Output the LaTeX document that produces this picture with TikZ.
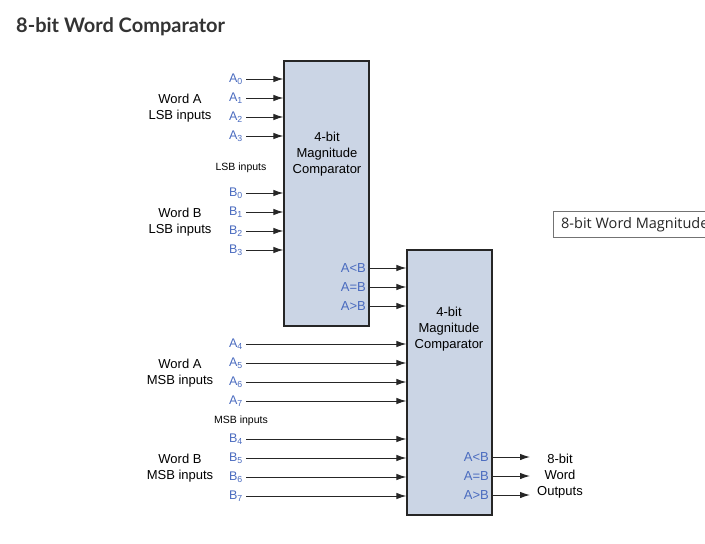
\documentclass[tikz,border=0pt]{standalone}
\usepackage{fontspec}
\setmainfont{Liberation Sans}
\newfontfamily\titlefont{Lato}
\newfontfamily\uifont{Open Sans}
\usepackage{tikz}
\usetikzlibrary{arrows.meta,positioning,calc}

\definecolor{boxfill}{HTML}{CBD5E5}
\definecolor{pinblue}{HTML}{4A6BBF}
\definecolor{titlegray}{HTML}{333333}

\tikzset{
  cmpbox/.style={draw=black!85,line width=1.2pt,fill=boxfill,minimum width=85pt,minimum height=265pt,inner sep=0pt},
  pinlbl/.style={anchor=east,text=pinblue,font=\fontsize{12.5}{12.5}\selectfont,inner sep=3pt},
  outlbl/.style={anchor=east,text=pinblue,font=\fontsize{13}{13}\selectfont,inner sep=3pt},
  wordlbl/.style={align=center,font=\fontsize{13}{16}\selectfont},
  smalllbl/.style={font=\fontsize{10.5}{10.5}\selectfont},
  sig/.style={-{Latex[length=10pt,width=6.5pt]},line width=1pt,black!85}
}

\begin{document}
\begin{tikzpicture}[x=1pt,y=-1pt]
\useasboundingbox (0,0) rectangle (705,544);
\node[anchor=base west,inner sep=0pt,text=titlegray,font=\titlefont\bfseries\fontsize{20}{20}\selectfont] (title) at (16,32) {8-bit Word Comparator};

% the two comparators
\node[cmpbox] (cmpl) at (326.5,193.5) {};
\node[cmpbox] (cmph) at (449.5,382.5) {};
\node[wordlbl] (txtl) at (327,154) {4-bit\\Magnitude\\Comparator};
\node[wordlbl] (txth) at (449,329) {4-bit\\Magnitude\\Comparator};

% LSB inputs
\foreach \i/\y in {0/79,1/98,2/117,3/136}{
  \node[pinlbl] (a\i) at (246,\y) {A\textsubscript{\i}};
  \draw[sig] (a\i.east) -- (a\i.east -| cmpl.west);
}
\foreach \i/\y in {0/193,1/212,2/231,3/250}{
  \node[pinlbl] (b\i) at (246,\y) {B\textsubscript{\i}};
  \draw[sig] (b\i.east) -- (b\i.east -| cmpl.west);
}
\node[wordlbl] (wal) at (180,108) {Word A\\LSB inputs};
\node[wordlbl] (wbl) at (180,222) {Word B\\LSB inputs};
\node[smalllbl] (lsb) at (241,168) {LSB inputs};

% cascade from low to high comparator
\foreach \n/\t/\y in {lt/{A<B}/268,eq/{A=B}/287,gt/{A>B}/306}{
  \node[outlbl] (l\n) at (369,\y) {\t};
  \draw[sig] (l\n.east) -- (l\n.east -| cmph.west);
}

% MSB inputs
\foreach \i/\y in {4/344,5/363,6/382,7/401}{
  \node[pinlbl] (a\i) at (246,\y) {A\textsubscript{\i}};
  \draw[sig] (a\i.east) -- (a\i.east -| cmph.west);
}
\foreach \i/\y in {4/439,5/458,6/477,7/496}{
  \node[pinlbl] (b\i) at (246,\y) {B\textsubscript{\i}};
  \draw[sig] (b\i.east) -- (b\i.east -| cmph.west);
}
\node[wordlbl] (wah) at (180,373) {Word A\\MSB inputs};
\node[wordlbl] (wbh) at (180,468) {Word B\\MSB inputs};
\node[smalllbl] (msb) at (241,421) {MSB inputs};

% word outputs
\node[wordlbl] (wout) at (560,476) {8-bit\\Word\\Outputs};
\foreach \n/\t/\y in {lt/{A<B}/457,eq/{A=B}/476,gt/{A>B}/495}{
  \node[outlbl] (h\n) at (492,\y) {\t};
  \coordinate (o\n) at (530,\y);
  \draw[sig] (h\n.east) -- (o\n);
}

% cut-off caption box
\begin{scope}
\clip (0,0) rectangle (705,544);
\draw[black!55,line width=0.9pt] (710,211) -- (553.5,211) -- (553.5,237) -- (710,237);
\node[anchor=west,inner sep=0pt,font=\uifont\fontsize{14.5}{14.5}\selectfont,text=black!85] (cap) at (561,224.5) {8-bit Word Magnitude};
\end{scope}
\end{tikzpicture}
\end{document}
